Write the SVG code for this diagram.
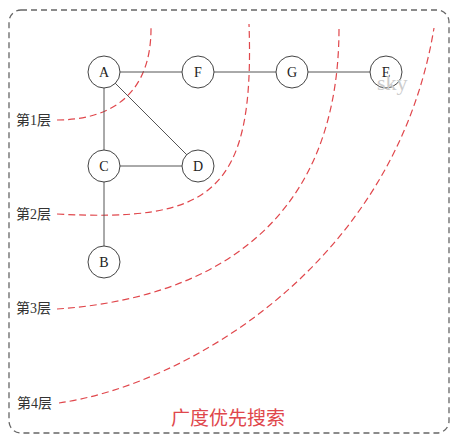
<svg xmlns="http://www.w3.org/2000/svg" width="460" height="440" viewBox="0 0 460 440">
<style>
.frame{fill:none;stroke:#666;stroke-width:1.3;stroke-dasharray:6 4}
.node circle{fill:#fff;stroke:#444;stroke-width:1}
.node text{font-family:"Liberation Serif","Noto Sans CJK SC",serif;font-size:14px;fill:#222;text-anchor:middle;dominant-baseline:central}
.edge{stroke:#555;stroke-width:1}
.layer{fill:none;stroke:#e0474c;stroke-width:1.2;stroke-dasharray:7 4}
.lbl{font-family:"Liberation Serif","Noto Sans CJK SC",serif;font-size:14px;fill:#333;dominant-baseline:central}
</style>
<rect class="frame" x="9" y="10" width="440" height="423" rx="12"/>
<g id="layers">
<path class="layer" d="M57,120 C110,120 152,95 151,26"/>
<path class="layer" d="M57,214 C210,222 255,195 249,24"/>
<path class="layer" d="M57,309 C190,300 340,240 339,26"/>
<path class="layer" d="M59,403 C185,385 395,265 434,28"/>
</g>
<g id="connectors">
<line class="edge" x1="104" y1="72" x2="198" y2="72"/>
<line class="edge" x1="198" y1="72" x2="292" y2="72"/>
<line class="edge" x1="292" y1="72" x2="386" y2="72"/>
<line class="edge" x1="104" y1="72" x2="104" y2="166"/>
<line class="edge" x1="104" y1="72" x2="198" y2="166" stroke="#777"/>
<line class="edge" x1="104" y1="166" x2="198" y2="166"/>
<line class="edge" x1="104" y1="166" x2="104" y2="262"/>
</g>
<g id="node-A" class="node"><circle cx="104" cy="72" r="16"/><text x="104" y="72">A</text></g>
<g id="node-F" class="node"><circle cx="198" cy="72" r="16"/><text x="198" y="72">F</text></g>
<g id="node-G" class="node"><circle cx="292" cy="72" r="16"/><text x="292" y="72">G</text></g>
<g id="node-E" class="node"><circle cx="386" cy="72" r="16"/><text x="386" y="72">E</text></g>
<g id="node-C" class="node"><circle cx="104" cy="166" r="16"/><text x="104" y="166">C</text></g>
<g id="node-D" class="node"><circle cx="198" cy="166" r="16"/><text x="198" y="166">D</text></g>
<g id="node-B" class="node"><circle cx="104" cy="262" r="16"/><text x="104" y="262">B</text></g>
<text x="377" y="90" style="font-family:'Liberation Serif',serif;font-size:22px;fill:#ccc">sky</text>
<text class="lbl" x="16" y="120">第1层</text>
<text class="lbl" x="16" y="214">第2层</text>
<text class="lbl" x="16" y="308">第3层</text>
<text class="lbl" x="17" y="403">第4层</text>
<text x="228" y="418" style="font-family:'Liberation Serif','Noto Sans CJK SC',serif;font-size:19px;fill:#e0474c;text-anchor:middle;dominant-baseline:central">广度优先搜索</text>
</svg>
